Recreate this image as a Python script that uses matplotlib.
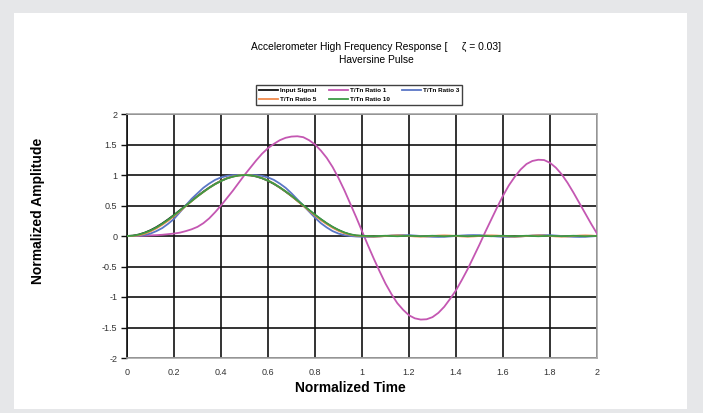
import matplotlib
matplotlib.use("Agg")
import matplotlib.pyplot as plt
from matplotlib.patches import Rectangle

plt.rcParams['font.family'] = ['Liberation Sans', 'DejaVu Sans']

# Normalized time samples (0 .. 2, step 0.025)
time = [0.0, 0.025, 0.05, 0.075, 0.1, 0.125, 0.15, 0.175, 0.2, 0.225,
        0.25, 0.275, 0.3, 0.325, 0.35, 0.375, 0.4, 0.425, 0.45, 0.475,
        0.5, 0.525, 0.55, 0.575, 0.6, 0.625, 0.65, 0.675, 0.7, 0.725,
        0.75, 0.775, 0.8, 0.825, 0.85, 0.875, 0.9, 0.925, 0.95, 0.975,
        1.0, 1.025, 1.05, 1.075, 1.1, 1.125, 1.15, 1.175, 1.2, 1.225,
        1.25, 1.275, 1.3, 1.325, 1.35, 1.375, 1.4, 1.425, 1.45, 1.475,
        1.5, 1.525, 1.55, 1.575, 1.6, 1.625, 1.65, 1.675, 1.7, 1.725,
        1.75, 1.775, 1.8, 1.825, 1.85, 1.875, 1.9, 1.925, 1.95, 1.975, 2.0]

input_signal = [0.0, 0.006, 0.024, 0.054, 0.095, 0.146, 0.206, 0.273, 0.345, 0.422,
                0.5, 0.578, 0.655, 0.727, 0.794, 0.854, 0.905, 0.946, 0.976, 0.994,
                1.0, 0.994, 0.976, 0.946, 0.905, 0.854, 0.794, 0.727, 0.655, 0.578,
                0.5, 0.422, 0.345, 0.273, 0.206, 0.146, 0.095, 0.054, 0.024, 0.006,
                0.0, 0.0, 0.0, 0.0, 0.0, 0.0, 0.0, 0.0, 0.0, 0.0,
                0.0, 0.0, 0.0, 0.0, 0.0, 0.0, 0.0, 0.0, 0.0, 0.0,
                0.0, 0.0, 0.0, 0.0, 0.0, 0.0, 0.0, 0.0, 0.0, 0.0,
                0.0, 0.0, 0.0, 0.0, 0.0, 0.0, 0.0, 0.0, 0.0, 0.0, 0.0]

ratio_1 = [0.0, 0.0, 0.002, 0.005, 0.01, 0.014, 0.02, 0.03, 0.04, 0.055,
           0.08, 0.11, 0.15, 0.21, 0.29, 0.39, 0.5, 0.62, 0.74, 0.87,
           1.0, 1.12, 1.24, 1.35, 1.44, 1.51, 1.57, 1.61, 1.63, 1.635,
           1.62, 1.57, 1.5, 1.4, 1.28, 1.13, 0.95, 0.75, 0.53, 0.31,
           0.08, -0.15, -0.37, -0.58, -0.78, -0.95, -1.1, -1.21, -1.3, -1.35,
           -1.37, -1.365, -1.33, -1.26, -1.16, -1.03, -0.89, -0.72, -0.54, -0.34,
           -0.14, 0.07, 0.27, 0.47, 0.66, 0.83, 0.97, 1.09, 1.18, 1.23,
           1.25, 1.245, 1.2, 1.12, 1.01, 0.87, 0.71, 0.54, 0.37, 0.2, 0.04]

ratio_3 = [0.0, 0.001, 0.005, 0.015, 0.04, 0.08, 0.13, 0.2, 0.28, 0.39,
           0.5, 0.61, 0.7, 0.79, 0.86, 0.92, 0.96, 0.985, 0.998, 1.0,
           1.0, 1.0, 0.998, 0.985, 0.96, 0.92, 0.86, 0.79, 0.7, 0.6,
           0.5, 0.4, 0.3, 0.21, 0.14, 0.08, 0.04, 0.015, 0.0, -0.008,
           -0.012, -0.015, -0.013, -0.007, 0.0, 0.008, 0.013, 0.015, 0.013, 0.007,
           0.0, -0.008, -0.013, -0.015, -0.013, -0.007, 0.0, 0.008, 0.013, 0.015,
           0.013, 0.007, 0.0, -0.008, -0.013, -0.015, -0.013, -0.007, 0.0, 0.008,
           0.013, 0.015, 0.013, 0.007, 0.0, -0.008, -0.013, -0.015, -0.013, -0.007, 0.0]

ratio_5 = [0.0, 0.002, 0.01, 0.035, 0.075, 0.125, 0.185, 0.25, 0.325, 0.405,
           0.49, 0.57, 0.65, 0.72, 0.79, 0.85, 0.905, 0.945, 0.975, 0.993,
           1.0, 0.995, 0.98, 0.95, 0.91, 0.86, 0.795, 0.73, 0.655, 0.575,
           0.495, 0.415, 0.335, 0.26, 0.195, 0.135, 0.085, 0.045, 0.02, 0.005,
           0.0, -0.007, -0.01, -0.007, 0.0, 0.007, 0.01, 0.007, 0.0, -0.007,
           -0.01, -0.007, 0.0, 0.007, 0.01, 0.007, 0.0, -0.007, -0.01, -0.007,
           0.0, 0.007, 0.01, 0.007, 0.0, -0.007, -0.01, -0.007, 0.0, 0.007,
           0.01, 0.007, 0.0, -0.007, -0.01, -0.007, 0.0, 0.007, 0.01, 0.007, 0.0]

ratio_10 = [0.0, 0.005, 0.022, 0.052, 0.09, 0.14, 0.2, 0.267, 0.34, 0.417,
            0.495, 0.573, 0.65, 0.722, 0.79, 0.85, 0.9, 0.943, 0.972, 0.992,
            1.0, 0.995, 0.978, 0.948, 0.908, 0.858, 0.798, 0.731, 0.66, 0.583,
            0.505, 0.427, 0.35, 0.277, 0.21, 0.15, 0.1, 0.058, 0.028, 0.01,
            0.004, 0.0, -0.004, 0.0, 0.004, 0.0, -0.004, 0.0, 0.004, 0.0,
            -0.004, 0.0, 0.004, 0.0, -0.004, 0.0, 0.004, 0.0, -0.004, 0.0,
            0.004, 0.0, -0.004, 0.0, 0.004, 0.0, -0.004, 0.0, 0.004, 0.0,
            -0.004, 0.0, 0.004, 0.0, -0.004, 0.0, 0.004, 0.0, -0.004, 0.0, 0.0]

labels = ["Input Signal", "T/Tn Ratio 1", "T/Tn Ratio 3", "T/Tn Ratio 5", "T/Tn Ratio 10"]
colors = ["#111111", "#c457b2", "#5a76c6", "#f08a4c", "#3d9a45"]
x_ticks = [0, 0.2, 0.4, 0.6, 0.8, 1, 1.2, 1.4, 1.6, 1.8, 2]
x_tick_labels = ["0", "0.2", "0.4", "0.6", "0.8", "1", "1.2", "1.4", "1.6", "1.8", "2"]
y_ticks = [-2, -1.5, -1, -0.5, 0, 0.5, 1, 1.5, 2]
y_tick_labels = ["-2", "-1.5", "-1", "-0.5", "0", "0.5", "1", "1.5", "2"]

W, H = 703, 413
fig = plt.figure(figsize=(W / 100, H / 100), dpi=100)
fig.patch.set_facecolor("#e6e7e9")
fig.patches.append(Rectangle((14 / W, 1 - 409 / H), (687 - 14) / W, (409 - 13) / H,
                             transform=fig.transFigure, facecolor="white",
                             edgecolor="none", zorder=-10))

ax = fig.add_axes([127 / W, 1 - 358 / H, (597 - 127) / W, (358 - 114) / H])
ax.set_facecolor("white")

series = [input_signal, ratio_1, ratio_3, ratio_5, ratio_10]
handles = []
for s, lab, c in zip(series, labels, colors):
    h, = ax.plot(time, s, color=c, lw=1.3, label=lab, zorder=3)
    handles.append(h)

ax.set_xlim(0, 2)
ax.set_ylim(-2, 2)
ax.set_xticks(x_ticks)
ax.set_xticklabels(x_tick_labels)
ax.set_yticks(y_ticks)
ax.set_yticklabels(y_tick_labels)
ax.grid(True, color="#111111", lw=1.2, zorder=1)
ax.set_axisbelow(True)
for side in ["top", "right", "bottom"]:
    ax.spines[side].set_color("#a8a8a8")
    ax.spines[side].set_linewidth(1.2)
ax.spines["left"].set_color("#111111")
ax.spines["left"].set_linewidth(1.2)
ax.tick_params(axis="y", length=4, width=1, color="#111111", pad=3,
               labelsize=6.5, labelcolor="#333333")
ax.tick_params(axis="x", length=0, pad=7, labelsize=6.5, labelcolor="#333333")

fig.text(350 / W, 1 - 388 / H, "Normalized Time", fontsize=10, fontweight="bold",
         ha="center", va="center")
fig.text(38 / W, 1 - 211 / H, "Normalized Amplitude", rotation=90,
         fontsize=10, fontweight="bold", ha="center", va="center")

fig.text(376 / W, 1 - 47 / H, "Accelerometer High Frequency Response [     \u03b6 = 0.03]",
         fontsize=7.4, ha="center", va="center")
fig.text(376 / W, 1 - 60 / H, "Haversine Pulse", fontsize=7.4, ha="center", va="center")

order = [0, 3, 1, 4, 2]
leg = fig.legend([handles[i] for i in order], [labels[i] for i in order],
                 ncol=3, loc="center", bbox_to_anchor=(359 / W, 1 - 95 / H),
                 prop={"size": 4.6, "weight": "bold"}, frameon=True,
                 fancybox=False, edgecolor="#111111", handlelength=3.0,
                 handletextpad=0.3, columnspacing=1.9, labelspacing=0.55,
                 borderpad=0.45)
leg.get_frame().set_linewidth(1.0)

fig.savefig("out.png", dpi=100, facecolor=fig.get_facecolor())
